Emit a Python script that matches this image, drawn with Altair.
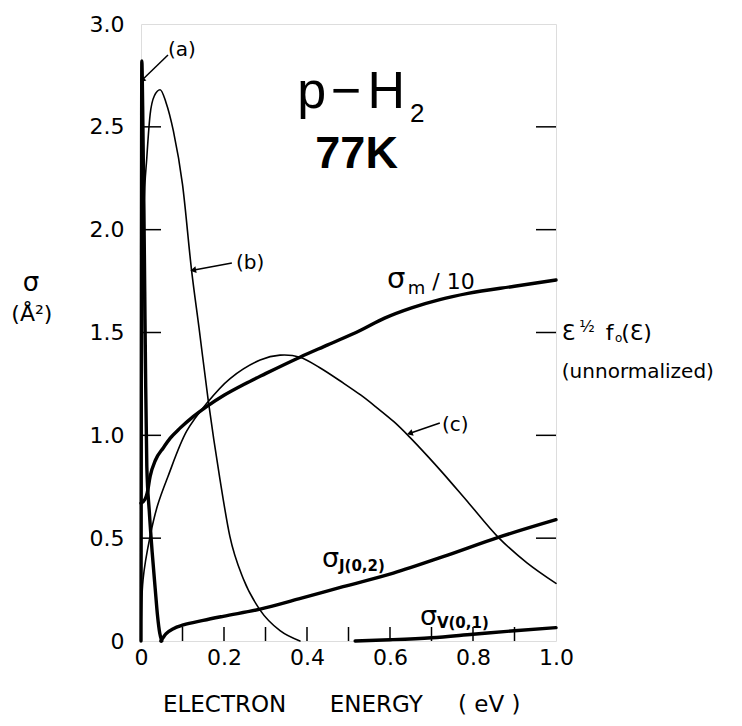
import altair as alt
import pandas as pd

FONT = "DejaVu Sans"
FONT2 = "Liberation Sans"

# ---- curve data ----
a_x = [0.0, 0.001, 0.002, 0.004, 0.007, 0.009, 0.011, 0.014, 0.020, 0.027, 0.034, 0.040, 0.045, 0.050]
a_y = [0.0, 1.8, 2.82, 2.6, 2.1, 1.7, 1.3, 0.85, 0.63, 0.43, 0.26, 0.12, 0.04, 0.0]

b_x = [0.0, 0.002, 0.004, 0.007, 0.014, 0.022, 0.032, 0.046, 0.060, 0.078, 0.100, 0.122, 0.140,
       0.162, 0.190, 0.214, 0.247, 0.287, 0.335, 0.383]
b_y = [0.0, 1.0, 1.6, 2.1, 2.35, 2.56, 2.65, 2.68, 2.62, 2.48, 2.22, 1.80, 1.52,
       1.17, 0.79, 0.51, 0.30, 0.15, 0.05, 0.0]

c_x = [0.0, 0.005, 0.022, 0.040, 0.065, 0.110, 0.158, 0.214, 0.287, 0.335, 0.383, 0.430, 0.487,
       0.530, 0.568, 0.610, 0.648, 0.690, 0.728, 0.790, 0.861, 0.930, 1.0]
c_y = [0.0, 0.30, 0.51, 0.66, 0.80, 1.02, 1.155, 1.275, 1.366, 1.39, 1.38, 1.33, 1.255,
       1.195, 1.135, 1.065, 0.99, 0.90, 0.815, 0.67, 0.504, 0.38, 0.28]

m_x = [0.0, 0.010, 0.015, 0.022, 0.035, 0.054, 0.070, 0.094, 0.125, 0.158, 0.200, 0.250, 0.300,
       0.383, 0.450, 0.528, 0.587, 0.652, 0.720, 0.788, 0.900, 1.0]
m_y = [0.67, 0.69, 0.72, 0.80, 0.88, 0.94, 0.985, 1.035, 1.09, 1.14, 1.195, 1.25, 1.30,
       1.38, 1.44, 1.51, 1.57, 1.62, 1.66, 1.69, 1.725, 1.755]

j_x = [0.048, 0.060, 0.078, 0.102, 0.150, 0.198, 0.287, 0.380, 0.487, 0.608, 0.728, 0.861, 1.0]
j_y = [0.0, 0.035, 0.06, 0.078, 0.10, 0.12, 0.155, 0.205, 0.264, 0.33, 0.41, 0.504, 0.59]

v_x = [0.516, 0.600, 0.700, 0.800, 0.900, 1.0]
v_y = [0.0, 0.006, 0.016, 0.033, 0.050, 0.065]

thin_steep = {"b": (b_x, b_y)}
thin_smooth = {"c": (c_x, c_y)}
thick_curves = {"a": (a_x, a_y), "sigma_m": (m_x, m_y), "sigma_J": (j_x, j_y), "sigma_V": (v_x, v_y)}

x_label_vals = [0.0, 0.2, 0.4, 0.6, 0.8, 1.0]
x_minor_ticks = [0.1, 0.2, 0.3, 0.4, 0.5, 0.6, 0.7, 0.8, 0.9]
y_label_vals = [0.0, 0.5, 1.0, 1.5, 2.0, 2.5, 3.0]
y_ticks = [0.5, 1.0, 1.5, 2.0, 2.5]


def to_df(curves):
    return pd.concat([pd.DataFrame({"x": xs_, "y": ys_, "curve": k}) for k, (xs_, ys_) in curves.items()],
                     ignore_index=True)


W, H = 415, 617
xsc = alt.Scale(domain=[0, 1], nice=False, zero=False)
ysc = alt.Scale(domain=[0, 3], nice=False, zero=False)

lab_expr = "datum.value == 0 ? '0' : format(datum.value, '.1f')"
x_axis = alt.Axis(values=x_label_vals, labelExpr=lab_expr, ticks=False, domain=False, grid=False, title=None,
                  labelFontSize=22, labelPadding=6, labelFlush=False, labelFont=FONT, labelColor="black")
y_axis = alt.Axis(values=y_label_vals, labelExpr=lab_expr, ticks=False, domain=False, grid=False, title=None,
                  labelFontSize=22, labelPadding=17, labelFlush=False, labelFont=FONT, labelColor="black")


def line_layer(curves, width, interp, axes=False):
    enc_x = alt.X("x:Q", scale=xsc, axis=x_axis) if axes else alt.X("x:Q", scale=xsc)
    enc_y = alt.Y("y:Q", scale=ysc, axis=y_axis) if axes else alt.Y("y:Q", scale=ysc)
    return alt.Chart(to_df(curves)).mark_line(
        color="black", interpolate=interp, strokeWidth=width, strokeCap="round", strokeJoin="round").encode(
        x=enc_x, y=enc_y, detail="curve:N")


thin_b = line_layer(thin_steep, 1.6, "monotone", axes=True)
thin_c = line_layer(thin_smooth, 1.6, "catmull-rom")
thick_lines = line_layer(thick_curves, 3.4, "monotone")

one = pd.DataFrame({"k": [0]})

bottom_ticks = alt.Chart(pd.DataFrame({"x": x_minor_ticks})).mark_rule(color="black", strokeWidth=1.5).encode(
    x=alt.X("x:Q", scale=xsc), y=alt.value(H), y2=alt.value(H - 14))
left_ticks = alt.Chart(pd.DataFrame({"y": y_ticks})).mark_rule(color="black", strokeWidth=1.5).encode(
    y=alt.Y("y:Q", scale=ysc), x=alt.value(0), x2=alt.value(20))
right_ticks = alt.Chart(pd.DataFrame({"y": y_ticks})).mark_rule(color="black", strokeWidth=1.5).encode(
    y=alt.Y("y:Q", scale=ysc), x=alt.value(W - 20), x2=alt.value(W))


def txt(s, x, y, size, align="left", baseline="alphabetic", weight="normal", font=FONT):
    return alt.Chart(one).mark_text(text=s, fontSize=size, align=align, baseline=baseline,
                                    fontWeight=weight, font=font, color="black").encode(
        x=alt.datum(x), y=alt.datum(y))


def arrow(x0, y0, x1, y1, ang):
    shaft = alt.Chart(one).mark_rule(color="black", strokeWidth=1.5).encode(
        x=alt.datum(x0), y=alt.datum(y0), x2=alt.datum(x1), y2=alt.datum(y1))
    head = alt.Chart(one).mark_point(shape="triangle", filled=True, size=45, angle=ang, color="black",
                                     opacity=1).encode(x=alt.datum(x1), y=alt.datum(y1))
    return [shaft, head]


texts = [
    txt("(a)", 0.065, 2.873, 20, baseline="middle"),
    txt("(b)", 0.229, 1.838, 20, baseline="middle"),
    txt("(c)", 0.725, 1.050, 20, baseline="middle"),
    txt("σ", 0.593, 1.716, 29),
    txt("m", 0.643, 1.687, 18),
    txt("/ 10", 0.702, 1.711, 22),
    txt("σ", 0.436, 0.360, 27),
    txt("J(0,2)", 0.477, 0.340, 15, weight="bold"),
    txt("σ", 0.672, 0.078, 27),
    txt("V(0,1)", 0.713, 0.063, 15, weight="bold"),
    txt("p", 0.446, 2.591, 52, align="right", font=FONT2),
    txt("−", 0.494, 2.591, 52, align="center", font=FONT2),
    txt("H", 0.546, 2.591, 52, font=FONT2),
    txt("2", 0.648, 2.523, 26, font=FONT2),
    txt("77K", 0.619, 2.300, 45, align="right", weight="bold", font=FONT2),
    txt("Ɛ", 1.014, 1.463, 22),
    txt("½", 1.056, 1.502, 16),
    txt("f", 1.120, 1.463, 22),
    txt("o", 1.142, 1.453, 12),
    txt("(Ɛ)", 1.157, 1.463, 22),
    txt("(unnormalized)", 1.014, 1.310, 20, baseline="middle"),
    txt("σ", -0.265, 1.70, 26, align="center"),
    txt("(Å²)", -0.263, 1.59, 22, align="center", baseline="middle"),
    txt("ELECTRON", 0.053, -0.345, 23),
    txt("ENERGY", 0.455, -0.345, 23),
    txt("( eV )", 0.764, -0.345, 23),
]

arrows = arrow(0.065, 2.849, 0.004, 2.73, 225) + arrow(0.219, 1.838, 0.128, 1.804, 260) + \
    arrow(0.720, 1.060, 0.650, 1.011, 252)

chart = alt.layer(thin_b, thin_c, thick_lines, bottom_ticks, left_ticks, right_ticks, *arrows, *texts).properties(
    width=W, height=H,
    autosize=alt.AutoSizeParams(type="none"),
    padding={"left": 141, "top": 24, "right": 186, "bottom": 85},
).configure_view(stroke="black", strokeWidth=2).configure(background="white")

chart.save("out.html", embed_options={"renderer": "svg", "actions": False})
